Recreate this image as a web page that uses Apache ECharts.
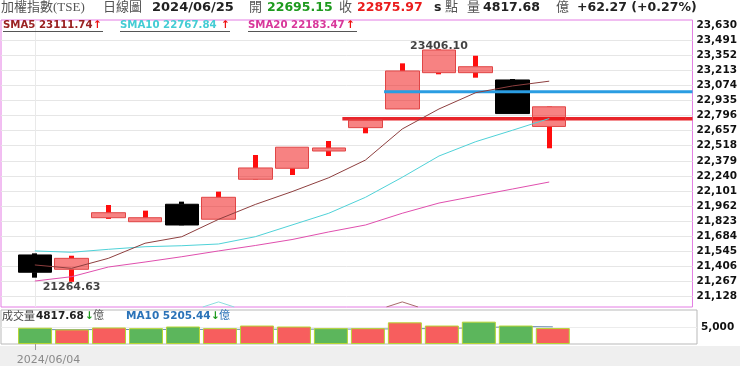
<!DOCTYPE html>
<html><head><meta charset="utf-8">
<script src="https://cdn.jsdelivr.net/npm/echarts@6/dist/echarts.min.js"></script>
<style>html,body{margin:0;padding:0;background:#fff;overflow:hidden}#c{width:740px;height:366px}</style>
</head><body><div id="c"></div>
<script>
// ---------- data ----------
const dates  = ['2024/06/04','2024/06/05','2024/06/06','2024/06/07','2024/06/11','2024/06/12','2024/06/13','2024/06/14','2024/06/17','2024/06/18','2024/06/19','2024/06/20','2024/06/21','2024/06/24','2024/06/25'];
const opens  = [21512, 21380, 21855, 21818, 21979, 21841, 22209, 22310, 22469, 22684, 22856, 23190, 23190, 23123, 22695.15];
const closes = [21353, 21481, 21901, 21855, 21788, 22043, 22313, 22504, 22497, 22755, 23206, 23399, 23245, 22813.70, 22875.97];
const lows   = [21303, 21264.63, 21844, 21818, 21785, 21841, 22205, 22248, 22423, 22632, 22856, 23175, 23144, 22813.70, 22494];
const highs  = [21527, 21505, 21972, 21920, 22003, 22095, 22432, 22504, 22561, 22760, 23276, 23406.10, 23346, 23132, 22880];
const sma5   = [21420, 21389, 21481, 21620, 21680, 21840, 21977, 22095, 22223, 22386, 22672, 22856, 23006, 23068, 23111.74];
const sma10  = [21549, 21537, 21564, 21588, 21597, 21613, 21680, 21788, 21896, 22043, 22227, 22423, 22555, 22660, 22767.84];
const sma20  = [21272, 21312, 21401, 21447, 21496, 21549, 21599, 21654, 21724, 21788, 21896, 21990, 22055, 22119, 22183.47];
const volumes = [4911, 4412, 5000, 4794, 5294, 4794, 5588, 5294, 4794, 4794, 6558, 5588, 6764, 5588, 4817.68];
const volMa10 = [4350, 4350, 4380, 4400, 4400, 4420, 4450, 4480, 4500, 4520, 4600, 4700, 4900, 5300, 5205.44];
const priceTicks = [21128, 21267, 21406, 21545, 21684, 21823, 21962, 22101, 22240, 22379, 22518, 22657, 22796, 22935, 23074, 23213, 23352, 23491, 23630];
const volTicks = [5000];
const redLevel  = {start: 8.37, value: 22767};   // horizontal red level line (x in bar-index units)
const blueLevel = {start: 9.505, value: 23015};  // horizontal blue level line
const glitchCyan  = [[4.57, 21033], [5, 21080], [5.43, 21033]];
const glitchBrown = [[9.57, 21033], [10, 21080], [10.43, 21033]];

// ---------- layout ----------
const X_MIN = -0.9207, X_MAX = 17.899;
const Y_MIN = 21033, Y_MAX = 23675;
const V_MAX = 10294;

const idx = dates.map((d, i) => i);
const isUp = i => closes[i] >= opens[i];
const wickData = idx.map(i => [i, lows[i], Math.min(opens[i], closes[i]), Math.max(opens[i], closes[i]), highs[i]]);
const bodyData = idx.map(i => [i, opens[i], closes[i], Math.min(opens[i], closes[i]), Math.max(opens[i], closes[i])]);
const hiI = highs.indexOf(Math.max(...highs));
const loI = lows.indexOf(Math.min(...lows));

const NUMF = "'DejaVu Sans', Verdana, sans-serif";
const CJKF = "'Liberation Serif', 'Noto Sans CJK TC', serif";
function T(x, y, text, size, weight, fill, family) {
  return { type: 'text', x: x, y: y, silent: true, z: 100,
    style: { text: text, fill: fill, font: (weight || 'normal') + ' ' + size + 'px ' + (family || NUMF), textVerticalAlign: 'middle', textAlign: 'left' } };
}
function L(x1, x2, y, color) {
  return { type: 'line', silent: true, z: 100, shape: {x1: x1, y1: y, x2: x2, y2: y}, style: {stroke: color, lineWidth: 1} };
}

const volUp = i => (i === 0 ? closes[0] >= opens[0] : closes[i] >= closes[i - 1]);

function renderWick(params, api) {
  const x = api.value(0);
  const pLo = api.coord([x, api.value(1)]);
  const pBb = api.coord([x, api.value(2)]);
  const pBt = api.coord([x, api.value(3)]);
  const pHi = api.coord([x, api.value(4)]);
  const c = isUp(params.dataIndex) ? '#ff0d0d' : '#000000';
  const w = 5;
  return { type: 'group', children: [
    {type: 'rect', shape: {x: Math.round(pHi[0] - w / 2), y: pHi[1], width: w, height: Math.max(0, pBt[1] - pHi[1])}, style: {fill: c}},
    {type: 'rect', shape: {x: Math.round(pBb[0] - w / 2), y: pBb[1], width: w, height: Math.max(0, pLo[1] - pBb[1])}, style: {fill: c}}
  ]};
}

const option = {
  animation: false,
  backgroundColor: '#ffffff',
  grid: [
    {left: 1, top: 20, width: 695, height: 287, show: true, borderColor: '#e47de4', borderWidth: 1, backgroundColor: '#fff'},
    {left: 1, top: 310, width: 696, height: 35, show: true, borderColor: '#b9b9b9', borderWidth: 1, backgroundColor: '#fff'}
  ],
  xAxis: [
    {type: 'value', gridIndex: 0, min: X_MIN, max: X_MAX,
     axisLine: {show: false}, axisTick: {show: false, customValues: [0]}, axisLabel: {show: false},
     splitLine: {show: true, lineStyle: {color: '#e9e9e9', width: 1}}},
    {type: 'value', gridIndex: 1, min: X_MIN, max: X_MAX, position: 'bottom',
     axisLine: {show: false},
     axisTick: {show: true, customValues: [0], length: 6, lineStyle: {color: '#9a9a9a'}},
     axisLabel: {show: true, customValues: [0], formatter: () => dates[0], color: '#8a8a8a', fontSize: 11, fontFamily: NUMF, margin: 11, padding: [0, 0, 0, 27]},
     splitLine: {show: false}}
  ],
  yAxis: [
    {type: 'value', gridIndex: 0, min: Y_MIN, max: Y_MAX, position: 'right',
     axisLine: {show: false},
     axisTick: {show: false, customValues: priceTicks.slice(0, -1)},
     axisLabel: {customValues: priceTicks, color: '#111', fontSize: 10.5, fontWeight: 'bold', fontFamily: NUMF, margin: 4},
     splitLine: {show: true, lineStyle: {color: '#e6e6e6', width: 1}}},
    {type: 'value', gridIndex: 1, min: 0, max: V_MAX, position: 'right',
     axisLine: {show: false},
     axisTick: {show: false, customValues: volTicks},
     axisLabel: {customValues: volTicks, color: '#111', fontSize: 10.5, fontWeight: 'bold', fontFamily: NUMF, margin: 4},
     splitLine: {show: true, lineStyle: {color: '#ececec', width: 1}}}
  ],
  series: [
    {type: 'line', name: 'glitchCyan', xAxisIndex: 0, yAxisIndex: 0, data: glitchCyan, symbol: 'none', silent: true,
     lineStyle: {color: '#8adede', width: 1}, z: 2},
    {type: 'line', name: 'glitchBrown', xAxisIndex: 0, yAxisIndex: 0, data: glitchBrown, symbol: 'none', silent: true,
     lineStyle: {color: '#a86a6a', width: 1}, z: 2},
    {type: 'line', name: 'red', xAxisIndex: 0, yAxisIndex: 0, data: [[redLevel.start, redLevel.value], [X_MAX, redLevel.value]],
     symbol: 'none', silent: true, lineStyle: {color: '#e8252b', width: 3.5}, z: 2},
    {type: 'custom', name: 'wick', xAxisIndex: 0, yAxisIndex: 0, data: wickData, encode: {x: 0, y: [1, 2, 3, 4]},
     renderItem: renderWick, silent: true, z: 3},
    {type: 'candlestick', name: 'body', xAxisIndex: 0, yAxisIndex: 0, data: bodyData, barWidth: 34, silent: true,
     itemStyle: {color: 'rgba(240,16,16,0.52)', color0: '#000', borderColor: '#e04646', borderColor0: '#000', borderWidth: 1}, z: 4},
    {type: 'line', name: 'blue', xAxisIndex: 0, yAxisIndex: 0, data: [[blueLevel.start, blueLevel.value], [X_MAX, blueLevel.value]],
     symbol: 'none', silent: true, lineStyle: {color: '#2a9de2', width: 3}, z: 5},
    {type: 'line', name: 'SMA20', xAxisIndex: 0, yAxisIndex: 0, data: idx.map(i => [i, sma20[i]]), symbol: 'none', silent: true,
     lineStyle: {color: '#e04fae', width: 1}, z: 6},
    {type: 'line', name: 'SMA10', xAxisIndex: 0, yAxisIndex: 0, data: idx.map(i => [i, sma10[i]]), symbol: 'none', silent: true,
     lineStyle: {color: '#4fd2d8', width: 1}, z: 6},
    {type: 'line', name: 'SMA5', xAxisIndex: 0, yAxisIndex: 0, data: idx.map(i => [i, sma5[i]]), symbol: 'none', silent: true,
     lineStyle: {color: '#8e3f3f', width: 1}, z: 6},
    {type: 'scatter', name: 'hiLo', xAxisIndex: 0, yAxisIndex: 0, symbolSize: 0, silent: true, z: 7,
     data: [
       {value: [hiI, highs[hiI]], label: {position: 'top', distance: -2}},
       {value: [loI, lows[loI]], label: {position: 'bottom', distance: 0}}
     ],
     label: {show: true, formatter: p => p.value[1].toFixed(2), color: '#111', fontSize: 11, fontWeight: 'bold', fontFamily: NUMF}},
    {type: 'line', name: 'volMA10', xAxisIndex: 1, yAxisIndex: 1, data: idx.map(i => [i, volMa10[i]]), symbol: 'none', silent: true,
     lineStyle: {color: '#6d8db0', width: 1}, z: 2},
    {type: 'bar', name: 'volume', xAxisIndex: 1, yAxisIndex: 1, data: idx.map(i => [i, volumes[i]]), barWidth: 34, silent: true, z: 3,
     itemStyle: {
       color: p => volUp(p.dataIndex) ? '#f75e5e' : '#5cb65c',
       borderColor: p => volUp(p.dataIndex) ? '#e44848' : '#3f9a3f',
       borderWidth: 1
     }}
  ],
  graphic: [
    {type: 'rect', silent: true, z: -10, shape: {x: 0, y: 346, width: 740, height: 20}, style: {fill: '#efefef'}},
    // header
    T(1, 8, '加權指數(TSE)', 13, 'normal', '#555', CJKF),
    T(103, 8, '日線圖', 13, 'normal', '#555', CJKF),
    T(152, 8, '2024/06/25', 13, 'bold', '#222'),
    T(249, 8, '開', 13, 'normal', '#555', CJKF),
    T(267, 8, '22695.15', 12.5, 'bold', '#1e9a1e'),
    T(339, 8, '收', 13, 'normal', '#555', CJKF),
    T(357, 8, '22875.97', 12.5, 'bold', '#ea1c1c'),
    T(434, 8, 's', 12.5, 'bold', '#222'),
    T(445, 8, '點', 13, 'normal', '#555', CJKF),
    T(467, 8, '量', 13, 'normal', '#555', CJKF),
    T(483, 8, '4817.68', 12.5, 'bold', '#222'),
    T(556, 8, '億', 13, 'normal', '#555', CJKF),
    T(577, 8, '+62.27 (+0.27%)', 12.5, 'bold', '#222'),
    // MA legend
    T(3, 25, 'SMA5 23111.74', 10.2, 'bold', '#9a2222'),
    T(93, 25, '↑', 10.5, 'bold', '#ee1111'),
    L(3, 103, 31.5, '#555'),
    T(120, 25, 'SMA10 22767.84', 10.2, 'bold', '#45ccd4'),
    T(221, 25, '↑', 10.5, 'bold', '#ee1111'),
    L(120, 230, 31.5, '#555'),
    T(248, 25, 'SMA20 22183.47', 10.2, 'bold', '#d8379a'),
    T(346, 25, '↑', 10.5, 'bold', '#ee1111'),
    L(248, 357, 31.5, '#555'),
    // volume legend
    T(2, 316, '成交量', 11, 'normal', '#444', "'Noto Sans CJK TC', sans-serif"),
    T(36, 316, '4817.68', 10.5, 'bold', '#222'),
    T(85, 316, '↓', 10.5, 'bold', '#1e9a1e'),
    T(93, 316, '億', 11, 'normal', '#555', CJKF),
    T(126, 316, 'MA10 5205.44', 10.5, 'bold', '#2a72b8'),
    T(211, 316, '↓', 10.5, 'bold', '#1e9a1e'),
    T(219, 316, '億', 11, 'normal', '#2a72b8', CJKF)
  ]
};
const chart = echarts.init(document.getElementById('c'));
chart.setOption(option);
</script></body></html>
